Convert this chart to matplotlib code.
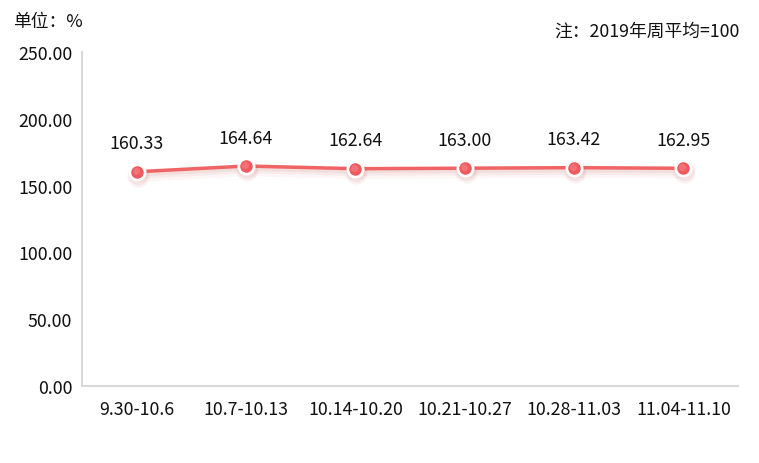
import matplotlib
matplotlib.use("Agg")
import matplotlib.pyplot as plt
import numpy as np

categories = ["9.30-10.6", "10.7-10.13", "10.14-10.20", "10.21-10.27", "10.28-11.03", "11.04-11.10"]
values = [160.33, 164.64, 162.64, 163.00, 163.42, 162.95]
value_labels = ["160.33", "164.64", "162.64", "163.00", "163.42", "162.95"]
yticks = [0, 50, 100, 150, 200, 250]

plt.rcParams['font.family'] = ['Noto Sans CJK SC', 'DejaVu Sans']
FS = 12.8

fig = plt.figure(figsize=(7.59, 4.64), dpi=100)
ax = fig.add_axes([82/759, 1-387/464, (738-82)/759, (387-53)/464])

x = np.arange(len(categories))
ax.set_xlim(-0.5, len(categories)-0.5)
ax.set_ylim(0, 250)

line_color = "#f06465"
# shadow
for off, a, w in [(4, 0.06, 9), (3, 0.08, 6), (2, 0.10, 4)]:
    ax.plot(x, np.array(values) - off/1.336, color="#d07070", alpha=a, lw=w, solid_capstyle='round', zorder=1)
ax.plot(x, values, color=line_color, lw=2.5, zorder=2)
# marker shadows
for off, a, s in [(4, 0.08, 16), (3, 0.10, 14)]:
    ax.plot(x + 0.01, np.array(values) - off/1.336, 'o', ms=s, color="#c06060", alpha=a, mec='none', zorder=3)
ax.plot(x, values, 'o', ms=13, mfc="#ffffff", mec='none', zorder=4)
ax.plot(x, values, 'o', ms=9, mfc="#ee5a5e", mec='none', zorder=5)
ax.plot(x - 0.01, np.array(values) + 0.8, 'o', ms=5, mfc="#f57f82", mec='none', alpha=0.7, zorder=6)

for xi, v, lab in zip(x, values, value_labels):
    ax.annotate(lab, (xi, v), xytext=(0, 14), textcoords='offset points',
                ha='center', va='bottom', fontsize=FS, color='#111111')

ax.set_xticks(x)
ax.set_xticklabels(categories, fontsize=FS, color='#111111')
ax.set_yticks(yticks)
ax.set_yticklabels([f"{t:.2f}" for t in yticks], fontsize=FS, color='#111111')
ax.tick_params(axis='both', length=0)
ax.tick_params(axis='x', pad=10)
ax.tick_params(axis='y', pad=7)

for s in ['top', 'right']:
    ax.spines[s].set_visible(False)
for s in ['left', 'bottom']:
    ax.spines[s].set_color('#d9d9d9')
    ax.spines[s].set_linewidth(1.5)

fig.text(13/759, 1-22/464, "单位：%", fontsize=FS, ha='left', va='center', color='#111111')
fig.text(740/759, 1-32/464, "注：2019年周平均=100", fontsize=FS, ha='right', va='center', color='#111111')

fig.savefig("out.png", dpi=100)
